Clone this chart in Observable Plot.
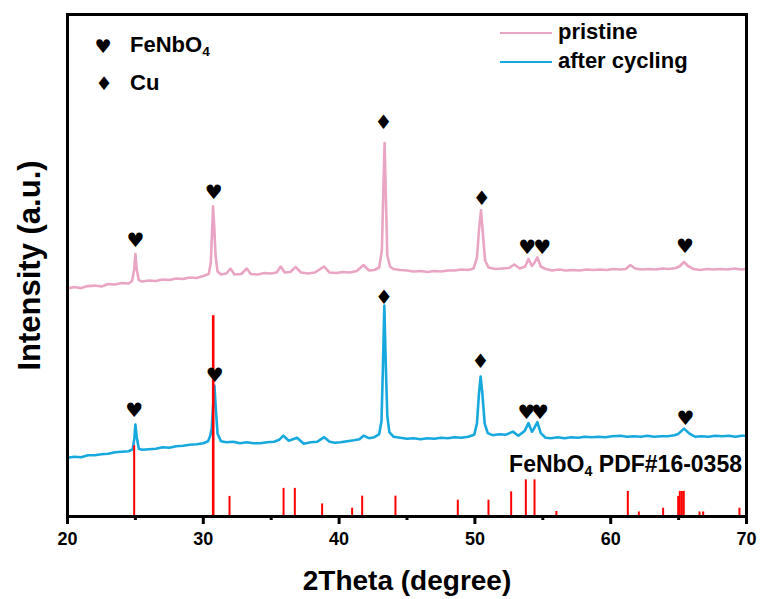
<!DOCTYPE html>
<html><head><meta charset="utf-8">
<script src="https://cdn.jsdelivr.net/npm/d3@7"></script>
<script src="https://cdn.jsdelivr.net/npm/@observablehq/plot@0.6"></script>
<style>
body{margin:0;background:#fff;}
#wrap{position:relative;width:760px;height:599px;font-family:"Liberation Sans",Arial,sans-serif;font-weight:bold;color:#000;}
.lbl{position:absolute;white-space:nowrap;line-height:24px;}
.sym{position:absolute;font-family:"DejaVu Sans",sans-serif;font-size:19px;line-height:20px;transform:translate(-50%,-50%);}
sub{font-size:0.62em;vertical-align:-0.3em;line-height:0;}
.sw{position:absolute;height:2px;}
</style></head><body><div id="wrap"></div>
<script>
const pristine = [[20.0,45.4],[20.5,45.7],[21.0,45.5],[21.5,45.9],[22.0,46.0],[22.5,45.8],[23.0,46.3],[23.5,46.2],[24.0,46.5],[24.5,46.4],[24.75,46.9],[24.9,49.0],[25.0,52.3],[25.1,49.2],[25.25,47.1],[25.5,46.8],[26.0,47.0],[26.5,46.9],[27.0,47.2],[27.5,47.1],[28.0,47.4],[28.5,47.3],[29.0,47.6],[29.5,47.5],[30.0,47.9],[30.4,48.3],[30.55,50.5],[30.65,57.0],[30.72,61.8],[30.8,58.0],[30.9,52.0],[31.05,48.8],[31.3,48.2],[31.7,48.4],[32.0,49.4],[32.3,48.2],[32.8,48.3],[33.2,49.4],[33.5,48.3],[34.0,48.2],[34.5,48.5],[35.0,48.4],[35.4,48.6],[35.7,49.8],[36.0,48.6],[36.4,48.7],[36.8,49.7],[37.2,48.6],[37.7,48.4],[38.2,48.6],[38.9,49.8],[39.3,48.6],[39.8,48.5],[40.3,48.7],[40.8,48.6],[41.3,48.9],[41.8,50.1],[42.2,49.0],[42.6,49.1],[42.95,49.6],[43.15,53.0],[43.25,64.0],[43.35,74.4],[43.45,63.0],[43.55,52.0],[43.75,49.8],[44.0,49.3],[44.5,49.1],[45.0,49.0],[45.5,48.8],[46.0,48.9],[46.5,48.7],[47.0,48.9],[47.5,48.8],[48.0,49.0],[48.5,49.0],[49.0,49.2],[49.5,49.1],[49.9,49.4],[50.15,51.5],[50.3,57.0],[50.45,61.0],[50.6,56.0],[50.75,51.0],[51.0,49.6],[51.5,49.3],[52.0,49.4],[52.5,49.5],[52.9,50.2],[53.3,49.4],[53.7,49.8],[53.95,51.3],[54.2,49.9],[54.35,50.4],[54.6,51.6],[54.85,49.8],[55.2,49.3],[55.7,49.0],[56.2,49.2],[56.7,49.0],[57.2,49.1],[57.7,49.0],[58.2,49.2],[58.7,49.1],[59.2,49.2],[59.7,49.1],[60.2,49.3],[60.7,49.2],[61.1,49.3],[61.45,50.1],[61.8,49.4],[62.3,49.2],[62.8,49.3],[63.3,49.2],[63.8,49.4],[64.3,49.3],[64.8,49.5],[65.1,49.9],[65.4,50.7],[65.7,49.9],[66.1,49.3],[66.6,49.1],[67.1,49.3],[67.6,49.2],[68.1,49.3],[68.6,49.2],[69.1,49.4],[69.6,49.2],[70.0,49.3]];
const cycled = [[20.0,11.7],[20.5,11.9],[21.0,11.8],[21.5,12.2],[22.0,12.2],[22.5,12.4],[23.0,12.5],[23.5,12.8],[24.0,12.9],[24.5,13.0],[24.8,13.4],[24.92,15.5],[25.0,18.3],[25.1,15.8],[25.25,13.5],[25.5,13.3],[26.0,13.4],[26.5,13.5],[27.0,13.8],[27.5,13.7],[28.0,14.0],[28.5,14.1],[29.0,14.3],[29.5,14.4],[30.0,14.6],[30.35,15.0],[30.5,16.0],[30.62,17.5],[30.72,22.0],[30.82,26.1],[30.92,21.5],[31.05,16.5],[31.3,15.0],[31.7,14.8],[32.2,14.9],[32.7,14.6],[33.2,14.8],[33.7,14.6],[34.2,14.6],[34.7,14.8],[35.2,14.9],[35.6,15.3],[35.9,16.1],[36.3,15.1],[36.9,15.7],[37.4,14.5],[37.9,14.8],[38.4,14.9],[38.9,15.8],[39.3,14.9],[39.7,14.7],[40.1,14.8],[40.6,15.0],[41.1,15.2],[41.5,15.4],[41.8,16.1],[42.2,15.6],[42.6,15.8],[42.95,16.4],[43.12,19.0],[43.22,29.0],[43.33,42.0],[43.43,31.0],[43.55,20.0],[43.7,16.8],[44.0,15.9],[44.5,15.7],[45.0,15.5],[45.5,15.6],[46.0,15.4],[46.5,15.6],[47.0,15.5],[47.5,15.7],[48.0,15.6],[48.5,15.8],[49.0,15.7],[49.5,15.9],[49.95,16.3],[50.15,18.5],[50.3,24.5],[50.42,27.9],[50.55,24.5],[50.72,18.5],[50.95,16.6],[51.3,16.2],[51.8,16.4],[52.3,16.3],[52.8,16.9],[53.2,16.1],[53.65,17.0],[53.95,18.6],[54.2,16.9],[54.35,17.5],[54.6,18.8],[54.85,16.6],[55.2,15.7],[55.6,15.6],[56.1,15.8],[56.6,15.6],[57.1,15.8],[57.6,15.7],[58.1,15.9],[58.6,15.8],[59.1,15.9],[59.6,15.8],[60.1,16.0],[60.7,16.1],[61.2,15.9],[61.7,16.0],[62.2,15.9],[62.7,16.1],[63.2,15.9],[63.7,16.0],[64.2,16.0],[64.7,16.2],[65.0,16.5],[65.4,17.5],[65.8,16.5],[66.2,15.9],[66.7,16.0],[67.2,15.9],[67.7,16.1],[68.2,16.0],[68.7,16.1],[69.2,15.9],[69.6,16.1],[70.0,16.1]];
const refPeaks = [[24.91,14.1],[30.73,40.0],[31.93,4.0],[35.91,5.6],[36.74,5.6],[38.75,2.5],[40.96,1.65],[41.70,4.05],[44.15,4.05],[48.74,3.25],[51.0,3.25],[52.67,4.9],[53.75,7.3],[54.39,7.3],[56.0,1.0],[61.26,5.0],[62.07,0.9],[63.86,1.65],[64.97,4.0],[65.09,5.0],[65.24,5.0],[65.38,5.0],[66.54,0.9],[66.81,0.9],[69.48,1.65]];
const markers = [[25.0,55.0,"♥"],[30.76,64.5,"♥"],[43.27,78.5,"♦"],[50.5,63.3,"♦"],[53.85,53.6,"♥"],[54.95,53.6,"♥"],[65.46,53.8,"♥"],
  [24.92,21.0,"♥"],[30.85,28.1,"♥"],[43.3,43.6,"♦"],[50.41,30.9,"♦"],[53.8,20.7,"♥"],[54.8,20.7,"♥"],[65.5,19.6,"♥"]];
const majorTicks = [20,30,40,50,60,70];
const minorTicks = [25,35,45,55,65];
const xDomain = [20, 70];
const yDomain = [0, 100];
const seriesNames = ["pristine","after cycling"];
const seriesColors = ["#E9A5C3","#17A9DE"];
const refColor = "#FF0000";

const chart = Plot.plot({
  width: 760, height: 599,
  marginLeft: 67, marginRight: 14, marginTop: 14, marginBottom: 83,
  style: {fontFamily: "'Liberation Sans', Arial, sans-serif", fontWeight: "bold", fontSize: "18px", background: "white", color: "#000"},
  x: {domain: xDomain},
  y: {domain: yDomain, axis: null},
  marks: [
    Plot.line(pristine, {x: d => d[0], y: d => d[1], stroke: seriesColors[0], strokeWidth: 2.6}),
    Plot.line(cycled, {x: d => d[0], y: d => d[1], stroke: seriesColors[1], strokeWidth: 2.6}),
    Plot.ruleX(refPeaks, {x: d => d[0], y1: 0, y2: d => d[1], stroke: refColor, strokeWidth: d => d[1] > 30 ? 2.6 : 2}),
    Plot.text(markers, {x: d => d[0], y: d => d[1], text: d => d[2], fontSize: 20, fontFamily: "DejaVu Sans", fill: "#000"}),
    Plot.axisX({ticks: majorTicks, tickSize: 8, tickPadding: 8, fontSize: 18, fontWeight: "bold", stroke: "#000", strokeWidth: 3, label: null}),
    Plot.axisX({ticks: minorTicks, tickSize: 4, tickFormat: () => "", stroke: "#000", strokeWidth: 3, label: null}),
    Plot.text(["2Theta (degree)"], {frameAnchor: "bottom", textAnchor: "middle", lineAnchor: "middle", dy: 65, fontSize: 28, fontWeight: "bold"}),
    Plot.text(["Intensity (a.u.)"], {frameAnchor: "left", textAnchor: "middle", lineAnchor: "middle", rotate: -90, dx: -37, fontSize: 31, fontWeight: "bold"}),
    Plot.ruleX(xDomain, {stroke: "#000", strokeWidth: 3}),
    Plot.ruleY(yDomain, {stroke: "#000", strokeWidth: 3}),
    Plot.frame({stroke: "#000", strokeWidth: 3})
  ]
});
const wrap = document.getElementById("wrap");
wrap.appendChild(chart);

function add(html, cls, style) {
  const el = document.createElement("div");
  el.className = cls; el.innerHTML = html;
  Object.assign(el.style, style);
  wrap.appendChild(el);
  return el;
}
add("♥", "sym", {left: "103px", top: "46px"});
add("FeNbO<sub>4</sub>", "lbl", {left: "130px", top: "33px", fontSize: "22px"});
add("♦", "sym", {left: "104px", top: "83px"});
add("Cu", "lbl", {left: "130px", top: "71px", fontSize: "22px"});
seriesNames.forEach((n, i) => {
  const cy = [32.5, 62][i];
  add("", "sw", {left: "500px", width: "52px", top: (cy - 1) + "px", background: seriesColors[i]});
  add(n, "lbl", {left: "558px", top: (cy - 13) + "px", fontSize: "22px"});
});
add("FeNbO<sub>4</sub> PDF#16-0358", "lbl", {right: (760 - 742) + "px", top: "452px", fontSize: "23px"});
</script></body></html>
